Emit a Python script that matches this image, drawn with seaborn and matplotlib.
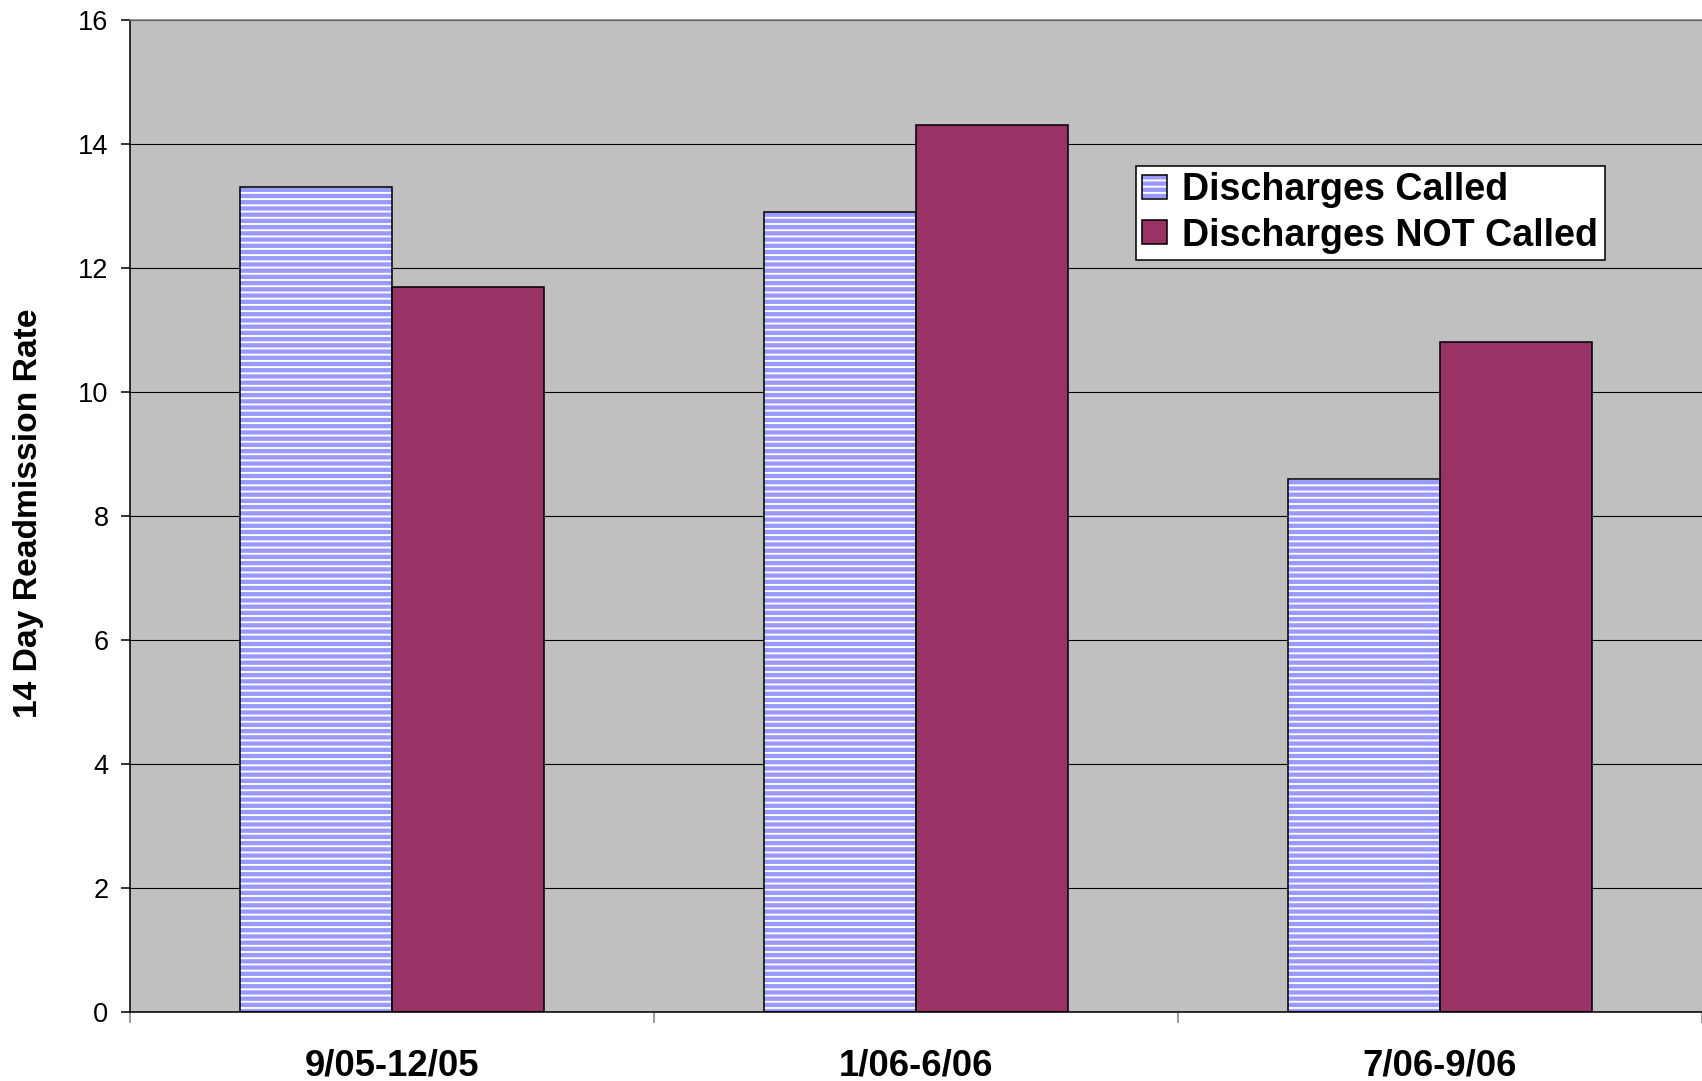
import matplotlib
matplotlib.use("Agg")
import matplotlib.pyplot as plt
from matplotlib import font_manager as fm
from matplotlib.patches import Rectangle
from matplotlib.legend_handler import HandlerTuple
import seaborn as sns
import pandas as pd

# Readmission rates by discharge period
periods = ["9/05-12/05", "1/06-6/06", "7/06-9/06"]
called = [13.3, 12.9, 8.6]
not_called = [11.7, 14.3, 10.8]
series_names = ["Discharges Called", "Discharges NOT Called"]
y_ticks = [0, 2, 4, 6, 8, 10, 12, 14, 16]

df = pd.DataFrame({
    "period": periods * 2,
    "rate": called + not_called,
    "group": [series_names[0]] * len(periods) + [series_names[1]] * len(periods),
})

sns.set_style("white")
plt.rcParams["font.family"] = ["Liberation Sans", "DejaVu Sans"]
plt.rcParams["hatch.linewidth"] = 2.8
for key in ["text.color", "axes.labelcolor", "xtick.color", "ytick.color",
            "xtick.labelcolor", "ytick.labelcolor"]:
    plt.rcParams[key] = "black"


def sans(weight, size):
    """Regular-width Liberation Sans (skip the Narrow cut) at the given weight."""
    want_bold = weight == "bold"
    for f in fm.fontManager.ttflist:
        base = f.fname.rsplit("/", 1)[-1].lower()
        if not base.startswith("liberationsans-"):
            continue
        is_bold = "bold" in base
        is_italic = "italic" in base
        if is_bold == want_bold and not is_italic:
            return fm.FontProperties(fname=f.fname, size=size)
    return fm.FontProperties(family=["Liberation Sans", "DejaVu Sans"], weight=weight, size=size)


STRIPE = "#9999FF"
PLUM = "#993366"
PANEL = "#C0C0C0"

DPI = 112
fig = plt.figure(figsize=(1702 / DPI, 1081 / DPI), dpi=DPI)
ax = fig.add_axes([130 / 1702, 1 - 1012 / 1081, 1 - 130 / 1702, (1012 - 20) / 1081])
ax.set_facecolor(PANEL)

sns.barplot(data=df, x="period", y="rate", hue="group", order=periods,
            hue_order=series_names, palette=["white", PLUM], width=0.58,
            gap=0, edgecolor="black", linewidth=1.0, saturation=1,
            errorbar=None, legend=False, ax=ax)

# Striped fill for the "called" series, with a black outline drawn on top
n = len(periods)
for patch in ax.patches[:n]:
    patch.set_facecolor("white")
    patch.set_edgecolor(STRIPE)
    patch.set_linewidth(0)
    patch.set_hatch("---")
    x0, y0 = patch.get_xy()
    outline = Rectangle((x0, y0), patch.get_width(), patch.get_height(),
                        facecolor="none", edgecolor="black", linewidth=1.0,
                        zorder=patch.get_zorder() + 0.1)
    ax.add_patch(outline)

ax.set_xlim(-0.5, len(periods) - 0.5)
ax.set_ylim(0, 16)
ax.set_yticks(y_ticks)
ax.set_yticklabels([str(v) for v in y_ticks])
ax.grid(axis="y", color="black", linewidth=0.7)
ax.grid(axis="x", visible=False)
ax.set_axisbelow(True)

# Category labels centred on groups, boundary ticks between them
ax.set_xticks(range(len(periods)))
ax.set_xticklabels(periods)
ax.set_xticks([i - 0.5 for i in range(len(periods) + 1)], minor=True)
ax.tick_params(axis="x", which="major", length=0, pad=23.5, labelcolor="black")
ax.tick_params(axis="x", which="minor", bottom=True, length=7, width=1.0,
               color="#808080", direction="out")
ax.xaxis.get_minor_ticks()[0].tick1line.set_color("black")
ax.tick_params(axis="y", which="major", length=5.8, width=1.0, color="black",
               direction="out", pad=8, left=True, labelcolor="black")

for lbl in ax.get_xticklabels():
    lbl.set_fontproperties(sans("bold", 23.5))
for lbl in ax.get_yticklabels():
    lbl.set_fontproperties(sans("normal", 17.5))

ax.set_xlabel("")
ax.set_ylabel("14 Day Readmission Rate", fontproperties=sans("bold", 21.6), color="black")
ax.yaxis.set_label_coords(-0.0547, 0.5025)

for side in ["left", "bottom"]:
    ax.spines[side].set_color("black")
    ax.spines[side].set_linewidth(1.0)
ax.spines["top"].set_color("#808080")
ax.spines["top"].set_linewidth(1.0)
ax.spines["right"].set_visible(False)

# Legend: striped swatch + solid swatch, both outlined in black
h_called = (Rectangle((0, 0), 1, 1, facecolor="white", edgecolor=STRIPE, hatch="---", linewidth=0),
            Rectangle((0, 0), 1, 1, facecolor="none", edgecolor="black", linewidth=1.0))
h_not = Rectangle((0, 0), 1, 1, facecolor=PLUM, edgecolor="black", linewidth=1.0)
leg = ax.legend([h_called, h_not], series_names,
                handler_map={tuple: HandlerTuple(ndivide=1, pad=0)},
                loc="upper left", bbox_to_anchor=(0.640, 0.853), borderaxespad=0,
                prop=sans("bold", 24.2), frameon=True, fancybox=False,
                framealpha=1, handlelength=0.66, handleheight=0.6,
                handletextpad=0.4, borderpad=0.17, labelspacing=0.25,
                labelcolor="black")
leg.get_frame().set_edgecolor("black")
leg.get_frame().set_linewidth(1.0)
leg.get_frame().set_facecolor("white")

fig.savefig("out.png", dpi=DPI)
